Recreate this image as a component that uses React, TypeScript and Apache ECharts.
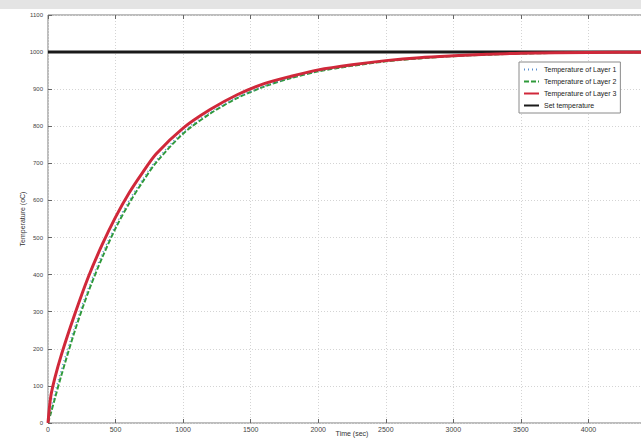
import React, { useEffect, useRef } from "react";
import * as echarts from "echarts";

const times = [0, 20, 50, 100, 200, 300, 400, 500, 600, 700, 800, 1000, 1200, 1400, 1600, 1800, 2000, 2250, 2500, 2750, 3000, 3250, 3500, 4000, 4500];
const layer1 = [0, 35, 80, 145, 262, 365, 455, 533, 600, 657, 708, 785, 838, 878, 908, 931, 949, 964, 976, 984, 989, 993, 996, 999, 1000];
const layer2 = [0, 25, 65, 130, 250, 355, 445, 525, 592, 650, 702, 780, 834, 876, 907, 930, 948, 963, 975, 983, 989, 993, 996, 999, 1000];
const layer3 = [0, 70, 120, 185, 295, 395, 480, 555, 620, 675, 725, 795, 845, 885, 915, 935, 952, 966, 977, 985, 990, 994, 997, 999, 1000];
const setTimes = [0, 4500];
const setTemp = [1000, 1000];

const seriesNames = ["Temperature of Layer 1", "Temperature of Layer 2", "Temperature of Layer 3", "Set temperature"];

const zip = (xs: number[], ys: number[]) => xs.map((x, i) => [x, ys[i]]);

export default function App() {
  const ref = useRef<HTMLDivElement>(null);
  useEffect(() => {
    if (!ref.current) return;
    const chart = echarts.init(ref.current, null, { renderer: "svg" });
    const font = "Liberation Sans, Arial, sans-serif";
    const plain = (v: number) => String(v);
    chart.setOption({
      animation: false,
      backgroundColor: "#ffffff",
      graphic: [
        { type: "rect", left: 0, top: 0, shape: { width: 641, height: 9 }, style: { fill: "#e4e4e4" }, z: -1 },
      ],
      grid: {
        left: 48,
        top: 15,
        width: 608,
        height: 408,
        show: true,
        borderColor: "#7a7a7a",
        borderWidth: 1,
        containLabel: false,
        outerBoundsMode: "none",
      },
      legend: {
        orient: "vertical",
        left: 519,
        top: 62,
        data: seriesNames,
        backgroundColor: "#ffffff",
        borderColor: "#8a8a8a",
        borderWidth: 1,
        padding: [4, 4, 4, 4],
        itemWidth: 15,
        itemHeight: 6,
        itemGap: 5,
        itemStyle: { opacity: 0 },
        textStyle: { fontSize: 7, color: "#222", fontFamily: font },
      },
      xAxis: [
        {
          type: "value",
          min: 0,
          max: 4500,
          interval: 500,
          name: "Time (sec)",
          nameLocation: "middle",
          nameGap: 7,
          nameMoveOverlap: false,
          nameTextStyle: { fontSize: 7, color: "#333", fontFamily: font, verticalAlign: "top" },
          axisLine: { show: false },
          axisTick: { show: true, inside: true, length: 4, lineStyle: { color: "#666" } },
          axisLabel: { fontSize: 7, color: "#444", margin: 3, fontFamily: font, formatter: plain },
          splitLine: { show: true, lineStyle: { color: "#d4d4d4", type: [1, 2] } },
        },
        {
          type: "value",
          position: "top",
          min: 0,
          max: 4500,
          interval: 500,
          axisLine: { show: false },
          axisTick: { show: true, inside: true, length: 4, lineStyle: { color: "#666" } },
          axisLabel: { show: false },
          splitLine: { show: false },
        },
      ],
      yAxis: {
        type: "value",
        min: 0,
        max: 1100,
        interval: 100,
        name: "Temperature (oC)",
        nameLocation: "middle",
        nameGap: 22,
        nameMoveOverlap: false,
        nameTextStyle: { fontSize: 7, color: "#333", fontFamily: font },
        axisLine: { show: false },
        axisTick: { show: true, inside: true, length: 4, lineStyle: { color: "#666" } },
        axisLabel: { fontSize: 6, color: "#444", margin: 5, fontFamily: font, formatter: plain },
        splitLine: { show: true, lineStyle: { color: "#d4d4d4", type: [1, 2] } },
      },
      series: [
        {
          name: seriesNames[3],
          type: "line",
          data: zip(setTimes, setTemp),
          symbol: "none",
          lineStyle: { color: "#1a1a1a", width: 3 },
          itemStyle: { color: "#1a1a1a" },
          z: 2,
        },
        {
          name: seriesNames[1],
          type: "line",
          data: zip(times, layer2),
          symbol: "none",
          smooth: 0.3,
          lineStyle: { color: "#2f9a3a", width: 2, type: [5, 2] },
          itemStyle: { color: "#2f9a3a" },
          z: 3,
        },
        {
          name: seriesNames[0],
          type: "line",
          data: zip(times, layer1),
          symbol: "none",
          smooth: 0.3,
          lineStyle: { color: "#5b8fd0", width: 1.5, type: [1, 3] },
          itemStyle: { color: "#5b8fd0" },
          z: 4,
        },
        {
          name: seriesNames[2],
          type: "line",
          data: zip(times, layer3),
          symbol: "none",
          smooth: 0.3,
          lineStyle: { color: "#d0283a", width: 3 },
          itemStyle: { color: "#d0283a" },
          z: 5,
        },
      ],
    });
    return () => chart.dispose();
  }, []);
  return <div ref={ref} style={{ position: "fixed", left: 0, top: 0, width: 641, height: 442 }} />;
}
